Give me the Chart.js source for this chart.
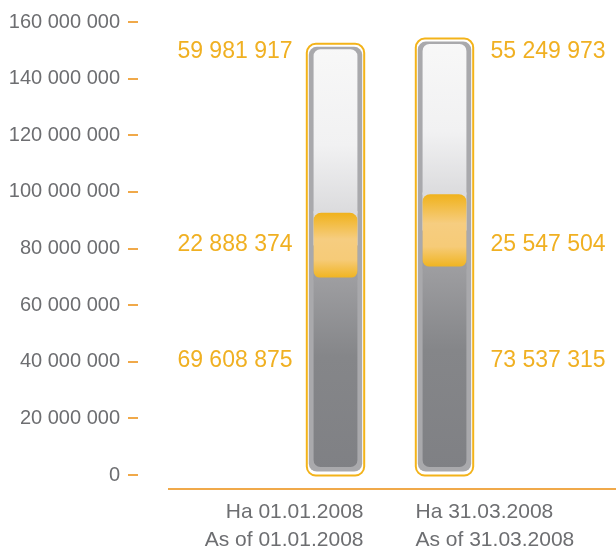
<!DOCTYPE html>
<html>
<head>
<meta charset="utf-8">
<script src="https://cdn.jsdelivr.net/npm/chart.js@4/dist/chart.umd.min.js"></script>
<style>
  html, body { margin: 0; padding: 0; background: #fff; }
  #wrap { width: 616px; height: 549px; }
</style>
</head>
<body>
<div id="wrap"><canvas id="chart"></canvas></div>
<script>
// chart values
const categories = [
    ['На 01.01.2008', 'As of 01.01.2008'],
    ['На 31.03.2008', 'As of 31.03.2008'],
];
const lowerValues = [69608875, 73537315];
const middleValues = [22888374, 25547504];
const upperValues = [59981917, 55249973];
const yTicks = [0, 20000000, 40000000, 60000000, 80000000, 100000000, 120000000, 140000000, 160000000];

const FONT = '"Liberation Sans", Arial, sans-serif';
const ORANGE = '#f0b022';
const AXIS_ORANGE = '#f0a94a';
const GREY_TEXT = '#6d6e71';
const INNER_W = 44;

// two empty slots around the bars so they sit where the original put them
const slotLabels = ['', ...categories.map(c => c[0]), ''];
const pad = arr => [null, ...arr, null];
const barSlots = categories.map((_, i) => i + 1);

const fmt = v => String(v).replace(/\B(?=(\d{3})+(?!\d))/g, ' ');

function segGradient(ctx, from, to, stops) {
    const g = ctx.createLinearGradient(0, from, 0, to);
    stops.forEach(([p, c]) => g.addColorStop(p, c));
    return g;
}

function segmentColor(stops, lowField, highField) {
    return (c) => {
        const chart = c.chart;
        if (!chart.chartArea || c.dataIndex == null) return stops[0][1];
        const i = c.dataIndex - 1;
        if (i < 0 || i >= categories.length) return stops[0][1];
        const y = chart.scales.y;
        return segGradient(chart.ctx, y.getPixelForValue(highField(i)), y.getPixelForValue(lowField(i)), stops);
    };
}

const thermo = {
    id: 'thermo',
    beforeDatasetsDraw(chart) {
        const { ctx } = chart;
        barSlots.forEach(slot => {
            const topEl = chart.getDatasetMeta(2).data[slot];
            const midEl = chart.getDatasetMeta(1).data[slot];
            const botEl = chart.getDatasetMeta(0).data[slot];
            const cx = topEl.x, yTop = topEl.y, yBase = botEl.base;
            ctx.save();
            // orange outline with white gap
            ctx.beginPath();
            ctx.roundRect(cx - 28.7, yTop + 0.5, 57.4, yBase - yTop, 9);
            ctx.fillStyle = '#fff';
            ctx.fill();
            ctx.lineWidth = 2;
            ctx.strokeStyle = '#f3b31a';
            ctx.stroke();
            // grey tube
            ctx.beginPath();
            ctx.roundRect(cx - 26.7, yTop + 3.5, 53.4, yBase - yTop - 7, 8);
            ctx.fillStyle = '#a9a9ac';
            ctx.fill();
            // backing behind the rounded orange corners
            const split = (midEl.y + midEl.base) / 2;
            ctx.fillStyle = '#dcdcde';
            ctx.fillRect(cx - INNER_W / 2, midEl.y - 2, INNER_W, split - midEl.y + 2);
            ctx.fillStyle = '#9d9da0';
            ctx.fillRect(cx - INNER_W / 2, split, INNER_W, midEl.base - split + 2);
            ctx.restore();
        });
    },
    beforeDatasetDraw(chart) {
        const { ctx } = chart;
        ctx.save();
        ctx.beginPath();
        barSlots.forEach(slot => {
            const topEl = chart.getDatasetMeta(2).data[slot];
            const botEl = chart.getDatasetMeta(0).data[slot];
            ctx.roundRect(topEl.x - INNER_W / 2, topEl.y + 6, INNER_W, botEl.base - topEl.y - 14, 7);
        });
        ctx.clip();
    },
    afterDatasetDraw(chart) {
        chart.ctx.restore();
    },
    afterDraw(chart) {
        const { ctx, scales: { y } } = chart;
        ctx.save();
        // orange tick dashes
        ctx.strokeStyle = AXIS_ORANGE;
        ctx.lineWidth = 2;
        yTicks.forEach(v => {
            const py = Math.round(y.getPixelForValue(v));
            ctx.beginPath();
            ctx.moveTo(128, py);
            ctx.lineTo(138, py);
            ctx.stroke();
        });
        // baseline below the bars
        const baseY = Math.round(y.getPixelForValue(0)) + 14;
        ctx.beginPath();
        ctx.moveTo(168, baseY);
        ctx.lineTo(chart.width, baseY);
        ctx.stroke();

        // value labels: left of the first bar, right of the second
        const levels = [40500000, 81500000, 149400000];
        const series = [lowerValues, middleValues, upperValues];
        ctx.fillStyle = ORANGE;
        ctx.font = '23px ' + FONT;
        ctx.textBaseline = 'middle';
        barSlots.forEach((slot, i) => {
            const el = chart.getDatasetMeta(0).data[slot];
            const left = i === 0;
            ctx.textAlign = left ? 'right' : 'left';
            const tx = left ? el.x - 43 : el.x + 46;
            series.forEach((s, k) => {
                ctx.fillText(fmt(s[i]), tx, y.getPixelForValue(levels[k]));
            });
        });

        // category labels
        ctx.fillStyle = GREY_TEXT;
        ctx.font = '21px ' + FONT;
        barSlots.forEach((slot, i) => {
            const el = chart.getDatasetMeta(0).data[slot];
            const left = i === 0;
            ctx.textAlign = left ? 'right' : 'left';
            const tx = left ? el.x + 28 : el.x - 29;
            categories[i].forEach((line, k) => {
                ctx.fillText(line, tx, baseY + 23 + k * 28);
            });
        });
        ctx.restore();
    }
};

new Chart(document.getElementById('chart'), {
    type: 'bar',
    data: {
        labels: slotLabels,
        datasets: [
            {
                data: pad(lowerValues),
                backgroundColor: segmentColor(
                    [[0, '#9e9ea1'], [0.4, '#858689'], [1, '#7f8084']],
                    () => 0, i => lowerValues[i]),
            },
            {
                data: pad(middleValues),
                borderRadius: { topLeft: 8, topRight: 8, bottomLeft: 8, bottomRight: 8 },
                borderSkipped: false,
                backgroundColor: segmentColor(
                    [[0, '#f0b21c'], [0.4, '#f6cd80'], [0.72, '#f6cb78'], [1, '#f0b420']],
                    i => lowerValues[i], i => lowerValues[i] + middleValues[i]),
            },
            {
                data: pad(upperValues),
                backgroundColor: segmentColor(
                    [[0, '#f8f8f8'], [0.6, '#f1f1f2'], [1, '#dbdbdd']],
                    i => lowerValues[i] + middleValues[i], i => lowerValues[i] + middleValues[i] + upperValues[i]),
            },
        ],
    },
    options: {
        responsive: true,
        maintainAspectRatio: false,
        animation: false,
        events: [],
        layout: { padding: { top: 22, bottom: 74, left: 0, right: 8 } },
        plugins: {
            legend: { display: false },
            tooltip: { enabled: false },
        },
        datasets: { bar: { barThickness: INNER_W, borderWidth: 0 } },
        scales: {
            x: {
                stacked: true,
                display: false,
            },
            y: {
                stacked: true,
                min: 0,
                max: 160000000,
                afterBuildTicks: s => { s.ticks = yTicks.map(v => ({ value: v })); },
                afterFit: s => { s.width = 172; },
                border: { display: false },
                grid: { display: false, drawTicks: true, tickLength: 52 },
                ticks: {
                    padding: 0,
                    color: GREY_TEXT,
                    font: { family: FONT, size: 20 },
                    callback: v => fmt(v),
                },
            },
        },
    },
    plugins: [thermo],
});
</script>
</body>
</html>
